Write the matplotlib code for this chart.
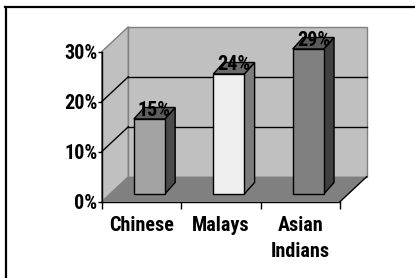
import matplotlib
matplotlib.use("Agg")
import matplotlib.pyplot as plt
from matplotlib.patches import Polygon
from matplotlib.lines import Line2D

# ---- data ----
categories = ["Chinese", "Malays", "Asian\nIndians"]
values = [15, 24, 29]
value_labels = ["15%", "24%", "29%"]
y_ticks = [0, 10, 20, 30]
y_tick_labels = ["0%", "10%", "20%", "30%"]

# ---- style ----
front_colors = ["#a3a3a3", "#efefef", "#808080"]
side_colors = ["#4a4a4a", "#7c7c7c", "#404040"]
top_colors = ["#5e5e5e", "#6a6a6a", "#5a5a5a"]
wall_color = "#c0c0c0"
floor_color = "#808080"
edge_gray = "#808080"
FONT = ["Roboto Condensed", "Liberation Sans", "DejaVu Sans"]
FS = 14.5

W, H = 415, 278
fig = plt.figure(figsize=(W / 100, H / 100), dpi=100)
fig.patch.set_facecolor("white")

# frame (left + top)
fig.add_artist(Line2D([5.7 / W, 5.7 / W], [0, 1 - 6.7 / H], transform=fig.transFigure,
                      color="black", lw=1.6))
fig.add_artist(Line2D([5.0 / W, 1], [1 - 6.7 / H, 1 - 6.7 / H], transform=fig.transFigure,
                      color="black", lw=1.6))

x0p, x1p, y0p, y1p = 101.7, 340.0, 201.7, 51.7
ax = fig.add_axes([x0p / W, 1 - y0p / H, (x1p - x0p) / W, (y0p - y1p) / H])
ax.set_xlim(0, 3)
ax.set_ylim(0, 30)
ax.set_facecolor("none")

n = len(categories)
DX, DY = 0.336, 5.0          # full depth offset (data units)
ymax = 30

# left wall
ax.add_patch(Polygon([(0, 0), (DX, DY), (DX, ymax + DY), (0, ymax)], closed=True,
                     facecolor=wall_color, edgecolor=edge_gray, lw=1, clip_on=False, zorder=1))
# back wall
ax.add_patch(Polygon([(DX, DY), (n + DX, DY), (n + DX, ymax + DY), (DX, ymax + DY)], closed=True,
                     facecolor=wall_color, edgecolor=edge_gray, lw=1, clip_on=False, zorder=1))
# floor
ax.add_patch(Polygon([(0, 0), (n, 0), (n + DX, DY), (DX, DY)], closed=True,
                     facecolor=floor_color, edgecolor="none", lw=0, clip_on=False, zorder=1.5))
ax.plot([n, n + DX], [0, DY], color="black", lw=1, clip_on=False, zorder=2)

# gridlines
for v in y_ticks[1:-1]:
    ax.plot([DX, n + DX], [v + DY, v + DY], color="black", lw=1, clip_on=False, zorder=2)
    ax.plot([0, DX], [v, v + DY], color="black", lw=1, clip_on=False, zorder=2)

# bars
shift_x, shift_y = 0.10, 1.54
bw = 0.39
bdx, bdy = 0.13, 2.3
xs = [i + 0.5 + shift_x for i in range(n)]
ax.bar(xs, values, width=bw, bottom=shift_y, color=front_colors, edgecolor="black",
       lw=1, zorder=5, clip_on=False)
for i, v in enumerate(values):
    xl, xr = xs[i] - bw / 2, xs[i] + bw / 2
    b, t = shift_y, shift_y + v
    ax.add_patch(Polygon([(xr, b), (xr + bdx, b + bdy), (xr + bdx, t + bdy), (xr, t)], closed=True,
                         facecolor=side_colors[i], edgecolor="black", lw=1, zorder=4, clip_on=False))
    ax.add_patch(Polygon([(xl, t), (xl + bdx, t + bdy), (xr + bdx, t + bdy), (xr, t)], closed=True,
                         facecolor=top_colors[i], edgecolor="black", lw=1, zorder=4, clip_on=False))
    ax.text(xs[i] + 0.065, t + 1.8, value_labels[i], ha="center", va="center",
            fontsize=FS, fontweight="bold", family=FONT, zorder=6, clip_on=False)

# axes / ticks
for s in ["top", "right"]:
    ax.spines[s].set_visible(False)
for s in ["left", "bottom"]:
    ax.spines[s].set_color("black")
    ax.spines[s].set_linewidth(1)
    ax.spines[s].set_zorder(3)
ax.set_yticks(y_ticks)
ax.set_yticklabels(y_tick_labels, fontsize=FS, fontweight="bold", family=FONT)
ax.tick_params(axis="y", length=3, width=1, pad=0)
ax.set_xticks(range(n + 1))
ax.set_xticklabels([])
ax.tick_params(axis="x", which="major", length=5, width=1, direction="out")
ax.set_xticks([i + 0.5 for i in range(n)], minor=True)
ax.set_xticklabels(categories, minor=True, fontsize=FS, fontweight="bold", family=FONT,
                   linespacing=1.5, va="top")
ax.tick_params(axis="x", which="minor", length=0, pad=10)

fig.savefig("out.png", dpi=100)
